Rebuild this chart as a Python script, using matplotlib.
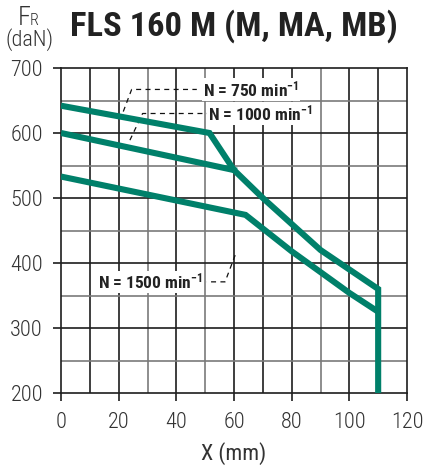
import matplotlib
matplotlib.use("Agg")
import matplotlib.pyplot as plt

# Permissible radial load FR (daN) versus distance X (mm)
x_750 = [0, 51.5, 60, 70, 90, 110, 110]
y_750 = [642, 600, 543, 500, 420, 360, 200]
x_1000 = [0, 61]
y_1000 = [600, 542]
x_1500 = [0, 64, 80, 100, 110]
y_1500 = [533, 474, 418, 354, 325]

x_ticks = [0, 20, 40, 60, 80, 100, 120]
y_ticks = [200, 300, 400, 500, 600, 700]

labels = ["N = 750 min$^{-1}$", "N = 1000 min$^{-1}$", "N = 1500 min$^{-1}$"]
label_xy = [(49.3, 667), (51.1, 630), (13.0, 371)]
leaders = [
    ([21.6, 24.5, 47.1], [633, 667, 667]),
    ([23.9, 28.3, 51.0], [589, 630, 630]),
    ([60.4, 56.9, 50.5], [412, 371, 371]),
]

FONT = ["Roboto Condensed", "DejaVu Sans"]
plt.rcParams["font.family"] = FONT
plt.rcParams["font.weight"] = "light"
plt.rcParams["mathtext.fontset"] = "custom"
plt.rcParams["mathtext.rm"] = "Roboto Condensed:bold"
plt.rcParams["mathtext.it"] = "Roboto Condensed:bold"
plt.rcParams["mathtext.bf"] = "Roboto Condensed:bold"

W, H = 423, 473
fig = plt.figure(figsize=(W / 100, H / 100), dpi=100)
ax = fig.add_axes([61 / W, 1 - 393 / H, (407 - 61) / W, (393 - 68) / H])

ax.set_xlim(0, 120)
ax.set_ylim(200, 700)

dark, light = "#1e1e1e", "#7a7a7a"
for gx in range(10, 120, 10):
    c = light if gx in (30, 50, 90) else dark
    ax.axvline(gx, color=c, lw=1.2, zorder=1)
for gy in range(250, 700, 50):
    c = dark if gy % 100 == 0 else light
    ax.axhline(gy, color=c, lw=1.2, zorder=1)

green = "#00806a"
for xs, ys in [(x_750, y_750), (x_1000, y_1000), (x_1500, y_1500)]:
    ax.plot(xs, ys, color=green, lw=4.4, solid_joinstyle="miter",
            solid_capstyle="butt", zorder=4)

for (lx, ly), (dx, dy), txt in zip(label_xy, leaders, labels):
    ax.plot(dx, dy, color="#111111", lw=0.9, ls=(0, (4, 3.5)), zorder=2)
    ax.text(lx, ly, txt, fontsize=12.5, fontweight="bold", ha="left", va="center",
            color="#222222", zorder=5,
            bbox=dict(boxstyle="square,pad=0.08", fc="white", ec="none"))

ax.set_xticks(x_ticks)
ax.set_yticks(y_ticks)
ax.tick_params(axis="both", direction="out", length=6, width=1.2,
               colors="#1e1e1e", labelsize=16, labelcolor="#333333")
ax.tick_params(axis="x", pad=8)
ax.tick_params(axis="y", pad=7)
for s in ax.spines.values():
    s.set_color(dark)
    s.set_linewidth(1.2)

ax.set_xlabel("X (mm)", fontsize=16, color="#333333", labelpad=6)

fig.text(70 / W, 1 - 36 / H, "FLS 160 M (M, MA, MB)", fontsize=24.8,
         fontweight="bold", color="#222222", ha="left", va="baseline")
fig.text(18 / W, 1 - 25 / H, "F", fontsize=19, color="#333333",
         ha="left", va="baseline")
fig.text(30 / W, 1 - 25 / H, "R", fontsize=11.5, color="#333333",
         ha="left", va="baseline")
fig.text(29 / W, 1 - 46 / H, "(daN)", fontsize=16, color="#333333",
         ha="center", va="baseline")

fig.savefig("out.png", dpi=100)
